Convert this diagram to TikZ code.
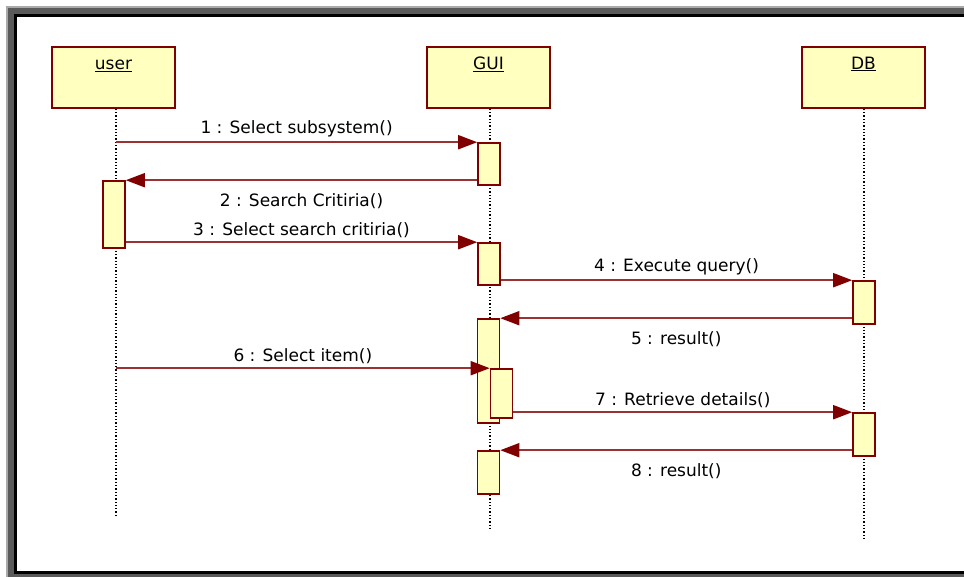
\documentclass[tikz,border=0pt]{standalone}
\usepackage{fontspec}
\setmainfont{DejaVu Sans}
\usetikzlibrary{arrows.meta}
\definecolor{boxred}{HTML}{800000}
\definecolor{linered}{HTML}{993333}
\definecolor{boxfill}{HTML}{FFFFC0}
\definecolor{frlight}{HTML}{AAAAAA}
\definecolor{frdark}{HTML}{5A5A5A}
\begin{document}
\begin{tikzpicture}[x=1pt,y=-1pt,
  every node/.style={font=\fontsize{17}{20}\selectfont},
  head/.style={draw=boxred, fill=boxfill, line width=1.6pt, minimum width=123pt, minimum height=61pt, inner sep=0pt},
  headlbl/.style={anchor=base, yshift=-23pt, inner sep=0pt},
  act/.style={draw=boxred, fill=boxfill, line width=1.6pt, minimum width=22pt, inner sep=0pt},
  life/.style={black, line width=1.3pt, dotted},
  msg/.style={draw=linered, line width=1.8pt, -{Triangle[length=19pt,width=14pt,color=boxred]}},
  lblabove/.style={midway, above=4pt, inner sep=0pt},
  lblbelow/.style={midway, below=12pt, inner sep=0pt}
]
\useasboundingbox (0,0) rectangle (964,577);
% frame
\fill[frlight] (6,6) rectangle (964,577);
\fill[frdark] (8,8) rectangle (964,577);
\fill[black] (14,14) rectangle (964,574);
\fill[white] (17,17) rectangle (964,571);

% heads
\node[head, label={[headlbl]north:\underline{user}}] (user) at (113.5,77.5) {};
\node[head, label={[headlbl]north:\underline{GUI}}] (gui) at (488.5,77.5) {};
\node[head, label={[headlbl]north:\underline{DB}}] (db) at (863.5,77.5) {};

% lifeline ends
\coordinate (uend) at (116,517);
\coordinate (gend) at (490,530);
\coordinate (dend) at (864,538);
\draw[life] (user.south -| uend) -- (uend);
\draw[life] (gui.south -| gend) -- (gend);
\draw[life] (db.south -| dend) -- (dend);

% activations
\node[act, minimum height=42pt] (g1) at (489,164) {};
\node[act, minimum height=67pt] (ua) at (114,214.5) {};
\node[act, minimum height=42pt] (g2) at (489,264) {};
\node[act, minimum height=43pt] (d1) at (864,302.5) {};
\node[act, minimum height=104pt] (g3) at (488.5,371) {};
\node[act, minimum height=49pt] (g3n) at (501.5,393.5) {};
\node[act, minimum height=43pt] (d2) at (864,434.5) {};
\node[act, minimum height=43pt] (g4) at (488.5,472.5) {};

% messages
\draw[msg] (uend |- g1.north west) -- (g1.north west) node[lblabove, text=black] {1 : Select subsystem()};
\draw[msg] (g1.west |- ua.north east) -- (ua.north east) node[lblbelow, text=black] {2 : Search Critiria()};
\draw[msg] (ua.east |- g2.north west) -- (g2.north west) node[lblabove, text=black] {3 : Select search critiria()};
\draw[msg] (g2.east |- d1.north west) -- (d1.north west) node[lblabove, text=black] {4 : Execute query()};
\draw[msg] (d1.west |- g3.north east) -- (g3.north east) node[lblbelow, text=black] {5 : result()};
\draw[msg] (uend |- g3n.north west) -- (g3n.north west) node[lblabove, text=black] {6 : Select item()};
\draw[msg] (g3n.east |- d2.north west) -- (d2.north west) node[lblabove, text=black] {7 : Retrieve details()};
\draw[msg] (d2.west |- g4.north east) -- (g4.north east) node[lblbelow, text=black] {8 : result()};
\end{tikzpicture}
\end{document}
